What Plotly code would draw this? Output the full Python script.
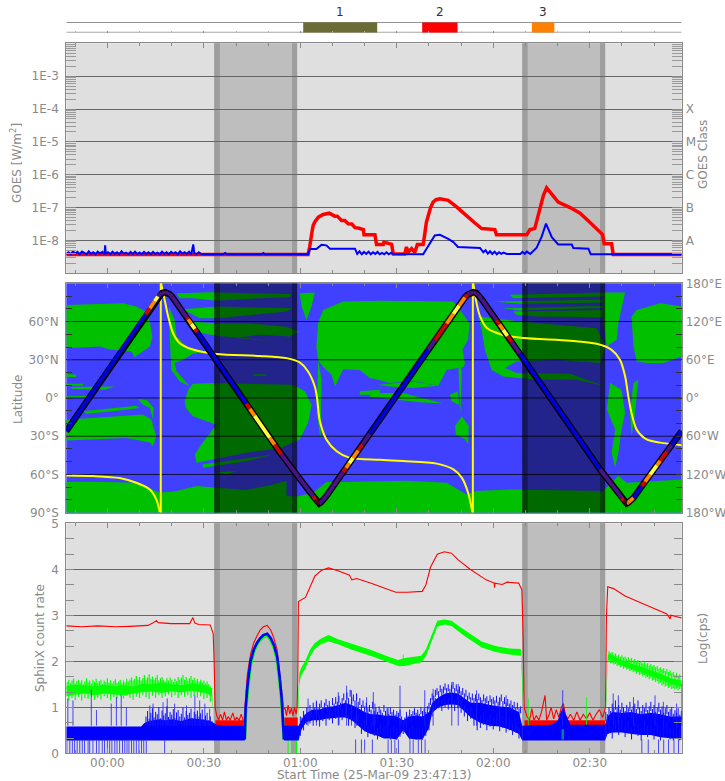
import plotly.graph_objects as go

W, H = 725, 781
GRAY = "#8a8a8a"
FONT = "DejaVu Sans"
X_RANGE = [-12.78, 178.6]

# ---- time axis
TICK_MIN = [0, 30, 60, 90, 120, 150]
TICK_TXT = ["00:00", "00:30", "01:00", "01:30", "02:00", "02:30"]
MINOR_MIN = [-10, 10, 20, 40, 50, 70, 80, 100, 110, 130, 140, 160, 170]

# ---- eclipse bands (minutes)
NIGHT_IN_A = [33.2, 129.0]
NIGHT_IN_B = [35.0, 130.7]
NIGHT_OUT_A = [57.4, 153.2]
NIGHT_OUT_B = [59.0, 154.8]

# ---- flare strip
FLARE_LABEL = ["1", "2", "3"]
FLARE_START = [60.9, 97.9, 132.0]
FLARE_END = [83.9, 108.9, 139.0]
FLARE_COLOR = ["#6b6b35", "#ff0000", "#ff8000"]

# ---- GOES (minute, log10 W/m2)
GOES_LONG = [(-12.8, -8.43), (62.4, -8.43), (62.9, -8.2), (63.2, -7.95), (63.6, -7.75), (64, -7.54), (64.6, -7.42), (65.6, -7.29),
             (67.1, -7.21), (69, -7.17), (70.7, -7.26), (71.5, -7.26), (72.8, -7.39), (73.8, -7.39), (74.9, -7.49), (76, -7.5),
             (77, -7.61), (78, -7.62), (79.6, -7.67), (79.8, -7.83), (83.2, -7.83), (83.7, -8.12), (85.8, -8.12), (86, -8.05),
             (88.4, -8.12), (88.9, -8.41), (92.5, -8.41), (93, -8.2), (93.5, -8.36), (94.6, -8.25), (95.6, -8.36), (96.4, -8.12),
             (98.2, -8.12), (98.7, -7.8), (99.2, -7.45), (99.8, -7.24), (100.5, -7.0), (101.3, -6.83), (102.2, -6.76),
             (103.4, -6.73), (106, -6.78), (108.6, -6.98), (110.5, -7.13), (112.2, -7.29), (114.3, -7.47), (116.4, -7.64),
             (120.5, -7.67), (121, -7.83), (130.4, -7.83), (131.4, -7.67), (132.9, -7.64), (133.7, -7.35), (134.5, -7.09),
             (135.6, -6.63), (136.6, -6.4), (138.2, -6.58), (140.2, -6.83), (143.9, -7.0), (147, -7.17), (149.6, -7.41),
             (152.2, -7.66), (154, -7.82), (154.5, -8.1), (156.8, -8.1), (157.3, -8.43), (178.6, -8.43)]
GOES_SHORT = [(-12.8, -8.42), (-12.1, -8.36), (-11.4, -8.42), (-10.7, -8.33), (-10, -8.4), (-9.3, -8.35), (-8.6, -8.42),
              (-7.9, -8.34), (-7.2, -8.38), (-6.5, -8.42), (-5.8, -8.33), (-5.1, -8.41), (-4.4, -8.36), (-3.7, -8.42),
              (-3, -8.34), (-2.3, -8.4), (-1.6, -8.35), (-0.9, -8.42), (-0.7, -8.15), (-0.5, -8.4), (0.2, -8.36), (0.9, -8.42),
              (1.6, -8.34), (2.3, -8.41), (3, -8.36), (3.7, -8.42), (4.4, -8.33), (5.1, -8.4), (5.8, -8.37), (6.5, -8.42),
              (7.2, -8.35), (7.9, -8.41), (8.6, -8.34), (9.3, -8.42), (10, -8.37), (10.7, -8.42), (11.4, -8.35), (12.1, -8.41),
              (12.8, -8.36), (13.5, -8.42), (14.2, -8.35), (14.9, -8.41), (15.6, -8.37), (16.3, -8.42), (17, -8.34),
              (17.7, -8.41), (18.4, -8.36), (19.1, -8.42), (19.8, -8.35), (20.5, -8.4), (21.2, -8.36), (21.9, -8.42),
              (22.6, -8.33), (23.3, -8.4), (24, -8.36), (24.7, -8.41), (25.4, -8.34), (26.1, -8.42), (26.7, -8.12), (27, -8.38),
              (27.7, -8.42), (28.4, -8.36), (29.1, -8.41), (30, -8.42), (36, -8.42), (36.6, -8.38), (37.2, -8.42), (48, -8.42),
              (48.5, -8.38), (49, -8.42), (62.4, -8.42), (63, -8.26), (65, -8.26), (66.6, -8.13), (68.1, -8.15), (69.2, -8.25),
              (77, -8.25), (77.7, -8.41), (78.4, -8.33), (79.1, -8.42), (79.8, -8.35), (80.5, -8.41), (81.2, -8.34), (81.9, -8.42),
              (82.6, -8.36), (83.3, -8.41), (84, -8.35), (84.7, -8.42), (85.4, -8.38), (86.1, -8.42), (86.8, -8.36), (87.5, -8.42),
              (88.2, -8.38), (88.9, -8.41), (98.2, -8.42), (99.8, -8.15), (101.8, -7.85), (103.4, -7.83), (106, -7.95),
              (107.6, -8.05), (109, -8.2), (115.9, -8.23), (116.9, -8.36), (117.6, -8.3), (118.3, -8.4), (119, -8.33),
              (119.7, -8.41), (120.4, -8.34), (121.1, -8.42), (121.8, -8.36), (122.5, -8.41), (123.2, -8.37), (124.2, -8.41),
              (128.4, -8.41), (129.1, -8.35), (129.8, -8.41), (130.4, -8.34), (131.5, -8.41), (133.5, -8.22), (135, -7.9),
              (136.4, -7.49), (138.2, -7.9), (140.2, -8.12), (144.4, -8.12), (144.9, -8.23), (149.6, -8.25), (150.3, -8.42),
              (178.6, -8.42)]
GOES_MAJOR = [1e-8, 1e-7, 1e-6, 1e-5, 1e-4, 1e-3]
GOES_LEFT_TXT = ["1E-8", "1E-7", "1E-6", "1E-5", "1E-4", "1E-3"]
CLASS_VALS = [1e-8, 1e-7, 1e-6, 1e-5, 1e-4]
CLASS_TXT = ["A", "B", "C", "M", "X"]
GOES_EXP = [-9, -8, -7, -6, -5, -4, -3]
GOES_MANT = [2, 3, 4, 5, 6, 7, 8, 9]

# ---- ground map (minute, latitude)
LAND_A = [(-12.8, 73), (-4.5, 73.8), (4.9, 74.4), (9, 71.7), (11.9, 67.8), (13.3, 58.7), (14, 48.3), (13.2, 40.4), (8.5, 32),
          (7.5, 36.5), (0.7, 38), (-2.4, 40.4), (-12.8, 39)]
LAND_B1 = [(-12.8, 18.8), (-9.7, 18.3), (-9.7, 16.4), (-12.8, 16.4)]
LAND_B2 = [(-12.8, 11.2), (-7.6, 11.2), (-7.6, 9.7), (-12.8, 9.7)]
LAND_B3 = [(-11.7, 8.6), (2.3, 9), (-0.8, 6.5), (-10.7, 7)]
LAND_B4 = [(-12.8, 1.3), (-5.5, 1.8), (-5.5, 0), (-12.8, 0)]
LAND_B5 = [(-7.6, -10.4), (1.8, -7.8), (9, -6), (10, -7.8), (1.8, -10.4), (-6.5, -12.3)]
LAND_B6 = [(9.5, -0.8), (12.3, -1.8), (14.4, -7.8), (14.2, -17), (13.2, -7.8), (11.1, -5.2)]
LAND_C = [(-12.8, -17), (-5.5, -15.7), (2.8, -14.3), (11.1, -13), (13.7, -17), (15.2, -30), (14.2, -37.8), (13.2, -35),
          (5.9, -31.3), (-4.5, -32.6), (-12.8, -33.4)]
LAND_E1 = [(21.5, 82.2), (31.8, 83), (47.4, 82.2), (57.2, 81.7), (56.7, 79), (47.4, 78.3), (33.9, 76.4), (26.6, 78.3),
           (22.5, 78.3)]
LAND_E2 = [(23.5, 69.7), (33.9, 71.7), (57.8, 70.4), (55.7, 67.8), (33.9, 62.6), (28.7, 62.6)]
LAND_E3 = [(25.6, 60), (33.9, 58.7), (43.2, 58.7), (55.7, 56), (59.6, 52), (56.7, 48.3), (47.4, 49.6), (41.2, 47.7),
           (51.5, 44.4), (33.9, 48.8), (26.6, 52.2)]
LAND_E4 = [(19.2, 71.7), (20.9, 61.3), (21.5, 48.3), (25.1, 39), (30.8, 36.5), (26.6, 34.7), (23.5, 30), (20.9, 27.4),
           (21.5, 20.9), (25.6, 9), (22.5, 13), (19.9, 22), (19.4, 45.7)]
LAND_E5 = [(45.3, 18.8), (49.5, 18.4), (49.5, 17.2), (45.3, 17.4)]
LAND_F = [(24, -2.6), (25.1, 6.5), (26.6, 11.2), (33.9, 11.7), (57.8, 10.4), (61.4, 5.2), (63.5, -5.2), (62.4, -19.6),
          (59.8, -32.6), (54.1, -39), (43.2, -43), (27.7, -50.9), (27.2, -44.4), (29.2, -36.5), (33.9, -20.9), (26.6, -14.3),
          (24.4, -7.8)]
LAND_F2 = [(29.7, -52), (43.2, -47), (51.5, -44.4), (43.2, -49.6), (29.7, -54.8)]
LAND_F3 = [(33.9, -58), (40.1, -57.4), (37, -60)]
LAND_D = [(-12.8, -65.7), (-4.5, -65.7), (9, -66.5), (16.3, -74.4), (21.5, -73), (27.7, -69), (33.9, -70.4), (43.2, -72.2),
          (51.5, -67.8), (55.7, -65), (55.7, -77), (59.3, -77), (64, -74.4), (68.1, -66), (73.3, -66), (81.6, -65.5),
          (93, -65), (105.5, -66.5), (111.7, -75.7), (114.8, -73), (126.2, -71.7), (154.2, -73), (158.9, -61), (161.5, -66.5),
          (170.9, -65), (178.6, -64), (178.6, -90), (-12.8, -90)]
LAND_G = [(59.8, 82.2), (64.5, 82.7), (63.5, 71.7), (61.9, 61.3), (60.4, 71.7)]
LAND_H = [(67.1, 69), (73.3, 75.7), (84.7, 76.4), (107.6, 75.7), (109.7, 69), (112.6, 58.7), (112.2, 45.7), (110.4, 38),
          (111.2, 27.4), (110.7, 24.3), (105.5, 22), (102.9, 9.7), (95, 13.6), (87.8, 11.7), (84.2, 14.3), (81.6, 15.7),
          (78.5, 22), (73.3, 22.5), (70.8, 9), (69.7, 18.3), (67.1, 24.3), (65.5, 30), (65, 40), (65.5, 58.7)]
LAND_H2 = [(81.6, 4), (92, 4), (104.5, -4.4), (97, -3.4), (81.6, 1)]
LAND_H3 = [(84.2, 10.4), (95, 13), (102.9, 9.7), (95, 7.8), (87.8, 9)]
LAND_H4 = [(106.5, 2.6), (109, 5.2), (109.4, -5.2), (107, -2.6)]
LAND_H5 = [(110.2, -14.3), (112.4, -22), (112.2, -36.5), (111.2, -32.6), (108.4, -28.7), (108.1, -22)]
LAND_H6 = [(109.4, 40), (110.2, 20), (109.8, -12), (109.2, 20)]
LAND_H7 = [(84.7, 6.5), (78.5, 5.2), (78.5, 2.6), (84.7, 2.6)]
LAND_H8 = [(65.5, 30), (66.6, 14.3), (66.3, -32.6), (65.2, -11.7)]
LAND_J = [(115.3, 64), (128.3, 60), (139.7, 57.4), (152.2, 54.8), (154.8, 40.4), (153.4, 27.4), (139.7, 30), (127.3, 28.7),
          (123.6, 23.5), (127.3, 19.6), (143.9, 19), (154.2, 9.7), (146, 14.3), (133.5, 14.3), (123.1, 16.9), (119.5, 22),
          (117.4, 37.8), (116.4, 53.5)]
LAND_K1 = [(125.2, 81), (154.2, 82.7), (154.2, 79.6), (126.2, 78.3)]
LAND_K2 = [(120, 75.7), (154.2, 77), (154.2, 75), (128.3, 74)]
LAND_K3 = [(123.1, 70.4), (154.2, 72.3), (154.2, 70.7), (128.3, 68.6)]
LAND_K4 = [(126.2, 67.8), (154.2, 69), (154.2, 63.4), (133.5, 64), (127.3, 65.2)]
LAND_L = [(154.2, 82.7), (161, 82.7), (160.5, 77), (158.9, 58.7), (158.4, 45.7), (155.3, 40.4), (154.2, 61.3)]
LAND_M = [(164.6, 69), (171.9, 74.4), (178.6, 71.7), (178.6, 32.6), (172.9, 27.4), (167.7, 27.4), (164.6, 28.7), (163.6, 40.4),
          (163, 64)]
LAND_N = [(156.3, 11.7), (159.9, 6.5), (161, -11.7), (159.9, -24.8), (158.9, -43), (157.9, -54.8), (156.8, -43), (157.9, -24.8),
          (155.3, -9)]
LAND_O = [(163.6, 11.7), (165.1, 14.3), (164.1, -11.7), (163, -30), (162.5, -11.7)]
LAND = [LAND_A, LAND_B1, LAND_B2, LAND_B3, LAND_B4, LAND_B5, LAND_B6, LAND_C, LAND_E1, LAND_E2, LAND_E3, LAND_E4, LAND_E5,
        LAND_F, LAND_F2, LAND_F3, LAND_D, LAND_G, LAND_H, LAND_H2, LAND_H3, LAND_H4, LAND_H5, LAND_H6, LAND_H7, LAND_H8,
        LAND_J, LAND_K1, LAND_K2, LAND_K3, LAND_K4, LAND_L, LAND_M, LAND_N, LAND_O]

# ---- satellite longitude (yellow, right axis)
LON_T1 = [-12.8, -4.5, 3.8, 9, 13.2, 15.2, 16.3]
LON_V1 = [-121.6, -122.6, -125.7, -133, -143.5, -159, -179]
LON_T2 = [16.7, 17.8, 18.9, 20.4, 22.5, 26.6, 33.9, 47.4, 55.7, 59.8, 62.4, 64.5, 65.2, 66, 68.1, 71.3, 75.4, 84.7, 92,
          102.4, 107.6, 110.2, 112.2, 113.5]
LON_V2 = [180, 154, 128, 102, 86, 76, 69, 66, 62.6, 55.8, 41.7, 18, 0, -34, -65, -83.5, -94, -97, -99, -103, -112, -125,
          -149, -179]
LON_T3 = [113.8, 114.6, 115.9, 118, 123.1, 129.4, 143.9, 152.2, 156.8, 159.4, 161, 162, 163, 164.6, 167.7, 171.9, 178.6]
LON_V3 = [180, 154, 128, 110, 99, 94, 90, 85, 75.6, 60, 34, 2.6, -23.5, -49.6, -65, -70, -74]
LON_WRAP_T = [16.6, 113.65]

# ---- satellite latitude track: (minute, latitude, colour of the run to the next point)
TRACK = [(-12.8, -26, "b"), (11.9, 65.5, "r"), (13.2, 70.3, "o"), (14.7, 75.9, "y"), (15.7, 79.6, "p"), (16.4, 81.4, "p"),
         (17, 82.4, "p"), (17.9, 83, "p"), (18.8, 82.4, "p"), (19.4, 81.4, "p"), (20.1, 79.6, "p"), (24.6, 63.5, "r"),
         (25.1, 61.8, "o"), (26.1, 58.2, "y"), (27.2, 54.3, "r"), (27.9, 51.7, "b"), (43.2, -4.5, "r"), (44.3, -8.5, "o"),
         (45.8, -14, "y"), (50.5, -31.2, "o"), (52, -36.6, "r"), (53.1, -40.6, "r"), (54.1, -44.2, "p"), (59.5, -62.3, "p"),
         (64, -77, "r"), (64.7, -79.8, "d"), (65.3, -81.7, "d"), (65.9, -82.7, "p"), (66.5, -81.7, "p"), (67.1, -79.8, "p"),
         (68.1, -77, "p"), (73.3, -58.2, "r"), (74.2, -54.9, "o"), (75.2, -51.3, "y"), (76.4, -47, "o"), (78, -41.2, "r"),
         (79.3, -36.5, "p"), (81.6, -28.1, "b"), (99.8, 37.8, "p"), (101.9, 45.4, "r"), (105.5, 58.4, "o"), (107.6, 66, "y"),
         (109.4, 72.5, "o"), (111.2, 79, "r"), (112, 81, "p"), (112.9, 82.4, "p"), (113.8, 83, "p"), (114.7, 82.4, "p"),
         (115.4, 80.6, "p"), (116.4, 77.5, "p"), (121, 61, "r"), (121.9, 57.7, "o"), (123.1, 53.4, "y"), (124.4, 48.8, "r"),
         (125.7, 44.1, "p"), (128.3, 34.8, "b"), (153.2, -56, "p"), (158.9, -74.4, "p"), (159.9, -78.3, "r"), (160.5, -80.5, "d"),
         (161, -82, "d"), (161.5, -82.7, "o"), (162, -82, "o"), (162.6, -80.6, "o"), (163.6, -78.3, "b"), (166.2, -69.2, "r"),
         (167.2, -65.7, "o"), (168.8, -60.1, "y"), (170.9, -52.8, "o"), (171.9, -49.3, "r"), (174, -42, "p"), (175.5, -36.8, "b"),
         (178.6, -26, "b")]
TRACK_PALETTE = {"b": "#0000d8", "p": "#4a1488", "r": "#c80808", "o": "#ff8800", "y": "#ffff40", "d": "#500820"}
LAT_VALS = [-90, -60, -30, 0, 30, 60]
LAT_TXT = ["90°S", "60°S", "30°S", "0°", "30°N", "60°N"]
LAT_GRID = [-60, -30, 0, 30, 60]
LAT_MINOR = [-80, -70, -50, -40, -20, -10, 10, 20, 40, 50, 70, 80]
LON_VALS = [-180, -120, -60, 0, 60, 120, 180]
LON_TXT = ["180°W", "120°W", "60°W", "0°", "60°E", "120°E", "180°E"]

# ---- SphinX log count rate
RED_T = [-12.8, -8, -3, 2.5, 7, 12.6, 14.1, 15.2, 15.8, 19.8, 25.6, 26.6, 27.2, 28.4, 32, 32.9, 33.2, 33.5, 34, 34.6, 35.2, 35.8,
         36.4, 37, 37.6, 38.2, 39, 39.6, 40.2, 41, 41.6, 42.2, 42.5, 42.9, 43.5, 44.5, 45.5, 46.5, 47.5, 48.5, 49.7, 50.8, 51.8,
         52.8, 53.6, 54.3, 54.8, 55.2, 55.7, 56.2, 56.7, 57.2, 57.7, 58.2, 58.7, 59, 59.2, 59.4, 61.6, 63, 64.5, 66.6, 68.8,
         71.7, 75.3, 76, 77.5, 81.8, 86, 89.7, 93.3, 97.9, 99, 100.5, 102.6, 104.8, 107, 109.2, 112.8, 117.8, 120.3, 120.4,
         120.5, 122.8, 124.3, 127.9, 128.9, 129.3, 129.6, 130.5, 131.3, 132, 132.6, 133.4, 134.2, 135, 136.1, 136.6, 137.4,
         138, 138.8, 139.6, 140.4, 141.2, 141.8, 142.4, 143.2, 144, 145, 146, 147, 148, 149, 150, 151, 152, 153, 154, 154.5,
         154.9, 155.2, 155.6, 157.4, 161, 168.2, 174, 175, 175.2, 178.6]
RED_V = [2.77, 2.75, 2.77, 2.75, 2.76, 2.78, 2.83, 2.88, 2.84, 2.82, 2.82, 2.95, 2.83, 2.8, 2.79, 2.6, 2.0, 1.0, 0.82, 0.72, 0.85,
         0.72, 0.9, 0.72, 0.8, 0.72, 0.88, 0.72, 0.78, 0.72, 0.85, 0.72, 0.72, 1.1, 1.7, 2.15, 2.4, 2.55, 2.68, 2.75, 2.78, 2.68,
         2.5, 2.25, 1.8, 1.3, 0.95, 1.0, 0.82, 1.05, 0.85, 0.98, 0.82, 1.0, 0.85, 1.0, 1.6, 3.3, 3.39, 3.6, 3.85, 3.98, 4.03,
         3.97, 3.87, 3.77, 3.8, 3.7, 3.6, 3.5, 3.5, 3.52, 3.65, 4.05, 4.33, 4.38, 4.35, 4.2, 4.0, 3.77, 3.7, 3.6, 3.7, 3.67, 3.72,
         3.7, 3.55, 2.5, 1.0, 0.8, 0.72, 0.97, 0.72, 0.82, 0.72, 0.9, 1.26, 0.72, 0.85, 1.0, 0.75, 0.95, 0.78, 1.0, 1.08, 0.85,
         0.75, 0.85, 0.72, 0.9, 0.72, 0.85, 0.75, 0.88, 0.72, 0.85, 0.95, 0.78, 0.9, 1.0, 3.0, 3.62, 3.58, 3.42, 3.2, 3.03, 2.92,
         3.0, 2.94]
RED_FLOOR_STARTS = [33.6, 55.0, 129.7]
RED_FLOOR_ENDS = [42.7, 59.2, 154.8]
RED_FLOOR_TOPS = [0.72, 0.78, 0.72]
GREEN1_T = [-12.8, -10, -7, -4, -1, 2, 5, 8, 11, 14, 17, 20, 23, 26, 29, 31, 32.5, 33, 33.3]
GREEN1_HI = [1.46, 1.49, 1.48, 1.46, 1.49, 1.46, 1.48, 1.45, 1.52, 1.5, 1.54, 1.5, 1.48, 1.52, 1.5, 1.47, 1.4, 1.0, 0.6]
GREEN1_LO = [1.24, 1.28, 1.3, 1.26, 1.3, 1.28, 1.26, 1.3, 1.33, 1.34, 1.31, 1.35, 1.32, 1.36, 1.32, 1.3, 1.23, 0.8, 0.55]
GREEN1_TOP = [1.55, 1.6, 1.53, 1.58, 1.62, 1.52, 1.57, 1.6, 1.54, 1.59, 1.5, 1.56, 1.63, 1.54, 1.58, 1.52, 1.6, 1.55, 1.62, 1.53,
              1.57, 1.6, 1.51, 1.58, 1.55, 1.63, 1.54, 1.59, 1.52, 1.57, 1.61, 1.53, 1.56, 1.6, 1.52, 1.58, 1.54, 1.62, 1.56,
              1.6, 1.65, 1.58, 1.62, 1.68, 1.6, 1.66, 1.58, 1.63, 1.7, 1.6, 1.65, 1.72, 1.62, 1.67, 1.6, 1.64, 1.7, 1.58, 1.63,
              1.66, 1.6, 1.56, 1.63, 1.58, 1.65, 1.6, 1.55, 1.62, 1.57, 1.66, 1.6, 1.65, 1.7, 1.6, 1.66, 1.58, 1.63, 1.68, 1.6,
              1.64, 1.58, 1.62, 1.56, 1.6, 1.54, 1.58, 1.52, 1.56, 1.5, 1.46, 1.42]
GREEN1_LOW = [1.14, 1.2, 1.16, 1.22, 1.15, 1.2, 1.18, 1.23, 1.16, 1.21, 1.17, 1.24, 1.2, 1.15, 1.22, 1.18, 1.24, 1.19, 1.25, 1.2,
              1.16, 1.23, 1.2, 1.26, 1.22, 1.18, 1.25, 1.21, 1.27, 1.2, 1.24, 1.28, 1.22, 1.26, 1.2, 1.27, 1.23, 1.26, 1.2, 1.25,
              1.21, 1.24, 1.18, 1.2, 1.12]
GREEN2_T = [59.3, 59.7, 60.2, 61.6, 63, 64.5, 66.6, 68.8, 71.7, 76, 81.8, 87.5, 90.4, 92.5, 97.6, 99, 101.2, 102.6, 104.8, 107,
            110.6, 116.4, 120.7, 125, 128.6, 129, 129.6]
GREEN2_HI = [1.1, 1.75, 1.85, 2.02, 2.25, 2.4, 2.5, 2.57, 2.48, 2.38, 2.25, 2.1, 2.03, 2.07, 2.12, 2.25, 2.65, 2.88, 2.91, 2.88,
             2.7, 2.43, 2.33, 2.28, 2.27, 1.8, 0.8]
GREEN2_LO = [0.7, 1.5, 1.68, 1.85, 2.1, 2.27, 2.38, 2.43, 2.37, 2.25, 2.12, 1.98, 1.9, 1.9, 1.98, 2.1, 2.5, 2.75, 2.8, 2.77, 2.57,
             2.3, 2.2, 2.15, 2.12, 1.5, 0.5]
GREEN3_T = [155, 155.6, 156.7, 159.6, 165.3, 171, 175.5, 178.6]
GREEN3_HI = [1.1, 2.15, 2.15, 2.03, 1.9, 1.76, 1.63, 1.58]
GREEN3_LO = [0.8, 2.02, 2.05, 1.92, 1.78, 1.63, 1.5, 1.45]
GREEN3_TOP = [2.22, 2.18, 2.2, 2.14, 2.17, 2.12, 2.14, 2.1, 2.13, 2.08, 2.1, 2.06, 2.09, 2.04, 2.07, 2.02, 2.05, 2.0, 2.03, 1.98,
              2.0, 1.95, 1.98, 1.93, 1.96, 1.91, 1.94, 1.89, 1.92, 1.87, 1.9, 1.84, 1.87, 1.82, 1.85, 1.79, 1.83, 1.77, 1.8, 1.74,
              1.77, 1.71, 1.75, 1.69, 1.72]
GREEN3_LOW = [1.98, 1.96, 1.97, 1.93, 1.94, 1.9, 1.92, 1.87, 1.89, 1.84, 1.86, 1.82, 1.84, 1.79, 1.81, 1.76, 1.78, 1.73, 1.76, 1.7,
              1.72, 1.67, 1.7, 1.64, 1.66, 1.61, 1.64, 1.58, 1.6, 1.55, 1.57, 1.52, 1.54, 1.48, 1.5, 1.45, 1.47, 1.42, 1.45, 1.4,
              1.42, 1.38, 1.41, 1.37, 1.4]
GREEN_NOTE_T = [91, 92, 130.9, 149]
GREEN_NOTE_BASE = [2.0, 2.0, 0.5, 0.5]
GREEN_NOTE_V = [1.88, 2.15, 1.19, 1.22]
GREEN_DOWN_T = [56.2, 57.3, 58.8]
ARC_T = [42.7, 43, 43.6, 44.5, 45.5, 46.5, 47.5, 48.5, 49.7, 50.8, 51.8, 52.8, 53.5, 54.2, 54.9]
ARC_GREEN = [0.3, 0.85, 1.35, 1.9, 2.2, 2.36, 2.46, 2.53, 2.56, 2.46, 2.3, 2.02, 1.6, 1.1, 0.3]
ARC_BLUE = [0.3, 1.0, 1.5, 2.0, 2.25, 2.4, 2.5, 2.57, 2.6, 2.5, 2.35, 2.1, 1.7, 1.2, 0.3]
BLUE1_T = [-12.8, 10.5, 11.5, 13, 16, 18, 20, 23, 26, 29, 32, 34, 36, 40, 42.7]
BLUE1_HI = [0.58, 0.58, 0.66, 0.7, 0.74, 0.72, 0.74, 0.7, 0.76, 0.74, 0.7, 0.62, 0.6, 0.6, 0.6]
BLUE1_LO = [0.28, 0.28, 0.28, 0.28, 0.28, 0.28, 0.28, 0.28, 0.28, 0.28, 0.28, 0.28, 0.28, 0.28, 0.28]
BLUE2_T = [54.9, 59.5, 60, 61, 62, 64, 66, 68, 70, 72, 74, 76, 78, 80, 82, 84, 86, 88, 90, 92, 93.8, 96, 98, 100, 101, 103, 105, 107,
           109, 111, 113, 116, 119, 122, 125, 128, 129]
BLUE2_HI = [0.6, 0.6, 0.68, 0.8, 0.88, 0.95, 0.95, 1.0, 1.02, 1.05, 1.1, 1.05, 0.98, 0.9, 0.85, 0.85, 0.82, 0.82, 0.8, 0.72, 0.8,
            0.82, 0.8, 0.9, 1.1, 1.22, 1.3, 1.32, 1.3, 1.2, 1.1, 1.1, 1.05, 1.02, 1.0, 0.9, 0.6]
BLUE2_LO = [0.28, 0.28, 0.45, 0.6, 0.68, 0.72, 0.72, 0.75, 0.76, 0.78, 0.78, 0.72, 0.6, 0.48, 0.42, 0.38, 0.32, 0.32, 0.3, 0.5, 0.32,
            0.3, 0.3, 0.55, 0.88, 1.0, 1.05, 1.06, 1.05, 0.92, 0.78, 0.66, 0.6, 0.58, 0.52, 0.42, 0.28]
BLUE3_T = [129, 138, 140, 141, 141.8, 142.5, 144, 154.8]
BLUE3_HI = [0.6, 0.62, 0.7, 0.9, 1.0, 0.85, 0.62, 0.62]
BLUE3_LO = [0.28, 0.28, 0.28, 0.28, 0.28, 0.28, 0.28, 0.28]
BLUE4_T = [154.8, 155.5, 157, 160, 163, 166, 169, 172, 175, 178.6]
BLUE4_HI = [0.62, 0.8, 0.9, 0.88, 0.9, 0.85, 0.88, 0.85, 0.8, 0.8]
BLUE4_LO = [0.28, 0.42, 0.45, 0.45, 0.42, 0.4, 0.4, 0.35, 0.32, 0.3]
BLUE_DOWN_T = [-12.6, -11.7, -10.9, -10.2, -9.4, -8.6, -7.8, -7.1, -6, -5.5, -4.5, -3.4, -2.6, -1.6, -0.9, 0, 0.7, 1.4, 2.3, 3, 3.8,
               4.7, 5.4, 6.1, 6.7, 7.5, 8.2, 9, 9.8, 10.6, 11.3, 12.1, 17.8, 77.2, 79, 80, 82.4, 87.3, 88.3, 89.4, 90.5, 94.1, 95.1,
               96.7, 97.7, 98.8, 166.2, 168.2, 171.4, 173, 174.5, 176.2, 177.6]
BLUE_UP_T = [-12.3, -10.7, -5, -3.4, 1.2, 2.8, 4.3, 5.9, 13.2, 14.2, 17.3, 18.6, 20.9, 24.6, 27.2, 28.7, 30.3, 31.8, 62.4, 65, 71.8,
             74.4, 75.9, 77.5, 80.6, 82.7, 83.2, 87.3, 91, 98.7, 101.3, 107.1, 109.1, 114.8, 122, 124, 141.6, 157.3, 158.9, 163.6,
             170.3, 172.9, 177, 178.6]
BLUE_UP_V = [1.19, 1.15, 1.38, 0.94, 1.08, 1.22, 1.26, 1.0, 1.04, 1.08, 1.11, 1.19, 1.08, 1.04, 1.26, 1.15, 1.08, 0.97, 1.19, 1.15, 1.33,
             1.47, 1.37, 1.3, 1.22, 1.33, 1.08, 1.0, 1.47, 1.37, 1.4, 1.55, 1.51, 1.37, 1.22, 1.26, 1.37, 1.3, 1.26, 1.22, 1.26, 1.12,
             1.08, 1.51]
# dense fuzz of the blue channel, minute grids with tops and bottoms read by eye
BLUE_FUZZ_A = [0.8, 0.92, 0.75, 0.88, 0.98, 0.78, 0.9, 0.85, 1.0, 0.76, 0.93, 0.82, 0.87, 1.02, 0.79, 0.9, 0.84, 0.96, 0.77, 0.89, 0.94,
               0.8, 0.86, 1.0, 0.78, 0.92, 0.83, 0.88, 0.97, 0.76, 0.9, 0.85, 0.93, 0.8, 0.87, 0.95, 0.74, 0.82, 0.88, 0.72, 0.8, 0.7]
BLUE_FUZZ_B = [0.8, 0.78, 0.92, 0.85, 1.0, 0.9, 1.05, 0.95, 1.1, 1.0, 1.12, 0.98, 1.08, 1.15, 1.0, 1.1, 1.18, 1.05, 1.14, 1.02, 1.2,
               1.08, 1.22, 1.12, 1.25, 1.1, 1.2, 1.3, 1.15, 1.32, 1.2, 1.38, 1.22, 1.28, 1.15, 1.3, 1.12, 1.2, 1.05, 1.15, 1.02,
               1.1, 0.98, 1.05, 0.95, 1.12, 0.92, 1.0, 0.9, 1.02, 0.95, 0.88, 1.05, 0.92, 0.98, 0.86, 1.0, 0.9, 0.95, 0.84, 0.92,
               0.88, 0.95, 0.8, 0.72, 0.78, 0.9, 0.82, 0.95, 0.85, 0.92, 0.98, 0.88, 0.95, 0.86, 1.0, 0.92, 0.98, 0.9, 1.02, 1.1,
               1.2, 1.3, 1.25, 1.38, 1.42, 1.35, 1.48, 1.4, 1.45, 1.52, 1.42, 1.5, 1.4, 1.48, 1.55, 1.42, 1.5, 1.38, 1.45, 1.35,
               1.42, 1.3, 1.38, 1.25, 1.32, 1.22, 1.3, 1.2, 1.28, 1.18, 1.3, 1.22, 1.16, 1.28, 1.2, 1.24, 1.14, 1.26, 1.18, 1.22,
               1.15, 1.25, 1.12, 1.2, 1.28, 1.14, 1.22, 1.1, 1.18, 1.08, 1.15, 1.05, 1.12, 1.0, 1.1, 0.98, 1.02]
BLUE_FUZZ_C = [0.9, 0.85, 1.0, 0.92, 1.08, 0.98, 1.15, 1.0, 1.05, 0.95, 1.1, 1.0, 0.92, 1.05, 0.98, 1.12, 0.95, 1.02, 1.08, 0.96, 1.15,
               1.0, 0.92, 1.05, 0.98, 1.1, 0.94, 1.02, 1.12, 0.96, 1.05, 0.9, 1.0, 1.1, 0.95, 1.02, 0.88, 0.98, 1.05, 0.9, 0.96, 1.0,
               0.86, 0.94, 0.88, 0.98, 0.84, 0.92]
BLUE_LOW_B = [0.38, 0.5, 0.62, 0.65, 0.6, 0.68, 0.58, 0.7, 0.6, 0.72, 0.65, 0.75, 0.62, 0.72, 0.78, 0.6, 0.7, 0.55, 0.6, 0.42, 0.48,
              0.35, 0.42, 0.38, 0.3, 0.4, 0.33, 0.38, 0.3, 0.34, 0.3, 0.36, 0.42, 0.55, 0.3, 0.35, 0.3, 0.33, 0.3, 0.38, 0.5, 0.8,
              0.95, 0.98, 0.92, 1.0, 0.95, 1.0, 0.92, 0.98, 0.88, 0.8, 0.7, 0.75, 0.6, 0.5, 0.55, 0.62, 0.5, 0.58, 0.52, 0.6, 0.48,
              0.55, 0.45, 0.5, 0.4, 0.45, 0.32]
BLUE_LOW_C = [0.38, 0.45, 0.32, 0.48, 0.4, 0.5, 0.35, 0.45, 0.3, 0.42, 0.38, 0.28, 0.45, 0.35, 0.4, 0.3, 0.42, 0.28, 0.35, 0.4, 0.3,
              0.28, 0.35, 0.28]
TEAL_T = [141.4, 141.6, 141.8]
SPHINX_VALS = [0, 1, 2, 3, 4, 5]
SPHINX_MINOR = [0.33, 0.67, 1.33, 1.67, 2.33, 2.67, 3.33, 3.67, 4.33, 4.67]


def fy(py):
    return 1 - py / H


fig = go.Figure()


def line(x, y, xa, ya, color, width, shape="linear", smoothing=1.0, **kw):
    fig.add_trace(go.Scatter(x=x, y=y, xaxis=xa, yaxis=ya, mode="lines", hoverinfo="skip", showlegend=False,
                             line=dict(color=color, width=width, shape=shape, smoothing=smoothing), **kw))


def area(x, y, xa, ya, color):
    fig.add_trace(go.Scatter(x=x, y=y, xaxis=xa, yaxis=ya, mode="lines", fill="toself", fillcolor=color, hoverinfo="skip",
                             showlegend=False, line=dict(width=0, color=color)))


def band(t, hi, lo, color):
    area(list(t) + list(t)[::-1], list(hi) + list(lo)[::-1], "x4", "y4", color)


def spikes(ts, base, tops, color, width):
    xs, ys = [], []
    for i, t in enumerate(ts):
        b = base[i] if isinstance(base, list) else base
        v = tops[i] if isinstance(tops, list) else tops
        xs += [t, t, None]
        ys += [b, v, None]
    line(xs, ys, "x4", "y4", color, width)


def grid(start, step, n):
    return [start + step * i for i in range(n)]


# flare strip
line(X_RANGE, [1, 1], "x", "y", "#707070", 1.2, cliponaxis=False)
line(X_RANGE, [0, 0], "x", "y", "#a8a8a8", 2, cliponaxis=False)
for s, e, c in zip(FLARE_START, FLARE_END, FLARE_COLOR):
    area([s, e, e, s, s], [0, 0, 1, 1, 0], "x", "y", c)

# panel backgrounds and eclipse bands below the traces
shapes = [dict(type="rect", xref="x2 domain", yref="y2 domain", x0=0, x1=1, y0=0, y1=1, fillcolor="#dfdfdf", line_width=0, layer="below"),
          dict(type="rect", xref="x3 domain", yref="y3 domain", x0=0, x1=1, y0=0, y1=1, fillcolor="#4040ff", line_width=0, layer="below"),
          dict(type="rect", xref="x4 domain", yref="y4 domain", x0=0, x1=1, y0=0, y1=1, fillcolor="#dfdfdf", line_width=0, layer="below")]
for (xr, yr) in (("x2", "y2 domain"), ("x4", "y4 domain")):
    for a, b, c, d in zip(NIGHT_IN_A, NIGHT_IN_B, NIGHT_OUT_A, NIGHT_OUT_B):
        shapes.append(dict(type="rect", xref=xr, yref=yr, x0=a, x1=d, y0=0, y1=1, fillcolor="#bebebe", line_width=0, layer="below"))
        for p, q in ((a, b), (c, d)):
            shapes.append(dict(type="rect", xref=xr, yref=yr, x0=p, x1=q, y0=0, y1=1, fillcolor="#9e9e9e", line_width=0, layer="below"))

# GOES
line([p[0] for p in GOES_LONG], [10 ** p[1] for p in GOES_LONG], "x2", "y2", "#ff0000", 3.5)
line([p[0] for p in GOES_SHORT], [10 ** p[1] for p in GOES_SHORT], "x2", "y2", "#0000ff", 2)
fig.add_trace(go.Scatter(x=[None], y=[None], xaxis="x2", yaxis="y5", showlegend=False, hoverinfo="skip"))

# map
for poly in LAND:
    xs = [p[0] for p in poly] + [poly[0][0]]
    ys = [p[1] for p in poly] + [poly[0][1]]
    area(xs, ys, "x3", "y3", "#00c000")
for a, b, c, d in zip(NIGHT_IN_A, NIGHT_IN_B, NIGHT_OUT_A, NIGHT_OUT_B):
    area([a, d, d, a, a], [-90, -90, 90, 90, -90], "x3", "y3", "rgba(0,0,0,0.45)")
    for p, q in ((a, b), (c, d)):
        area([p, q, q, p, p], [-90, -90, 90, 90, -90], "x3", "y3", "rgba(0,0,0,0.35)")
for lat in LAT_GRID:
    line(X_RANGE, [lat, lat], "x3", "y3", "rgba(0,0,0,0.75)", 1)

# yellow longitude on the right axis
for tt, vv in ((LON_T1, LON_V1), (LON_T2, LON_V2), (LON_T3, LON_V3)):
    line(tt, vv, "x3", "y6", "#ffff00", 2, shape="spline", smoothing=0.8)
for t in LON_WRAP_T:
    line([t, t], [-180, 180], "x3", "y6", "#ffff00", 2)

# track on its own overlay so that it sits above the yellow curve
line([p[0] for p in TRACK], [p[1] for p in TRACK], "x3", "y7", "#000000", 6.5)
for key, col in TRACK_PALETTE.items():
    xs, ys = [], []
    for i in range(len(TRACK) - 1):
        if TRACK[i][2] == key:
            xs += [TRACK[i][0], TRACK[i + 1][0], None]
            ys += [TRACK[i][1], TRACK[i + 1][1], None]
    line(xs, ys, "x3", "y7", col, 3.8)

# SphinX
for s, e, top in zip(RED_FLOOR_STARTS, RED_FLOOR_ENDS, RED_FLOOR_TOPS):
    area([s, e, e, s, s], [0.5, 0.5, top, top, 0.5], "x4", "y4", "#ff0000")
line(RED_T, RED_V, "x4", "y4", "#ff0000", 1.1)
band(GREEN1_T, GREEN1_HI, GREEN1_LO, "#00ff00")
band(GREEN2_T, GREEN2_HI, GREEN2_LO, "#00ff00")
band(GREEN3_T, GREEN3_HI, GREEN3_LO, "#00ff00")
spikes(grid(-12.5, 0.5, len(GREEN1_TOP)), 1.4, GREEN1_TOP, "#00ff00", 1.2)
spikes(grid(-12, 1, len(GREEN1_LOW)), 1.4, GREEN1_LOW, "#00ff00", 1.2)
spikes(grid(156, 0.5, len(GREEN3_TOP)), [v - 0.12 for v in GREEN3_TOP], GREEN3_TOP, "#00ff00", 1.2)
spikes(grid(156, 0.5, len(GREEN3_LOW)), [v + 0.12 for v in GREEN3_LOW], GREEN3_LOW, "#00ff00", 1.2)
spikes(GREEN_NOTE_T, GREEN_NOTE_BASE, GREEN_NOTE_V, "#00ff00", 0.8)
spikes(GREEN_DOWN_T, 0.3, 0, "#00ff00", 1)
line(ARC_T, ARC_GREEN, "x4", "y4", "#00ff00", 3)
line(ARC_T, ARC_BLUE, "x4", "y4", "#0000ff", 2.6)
band(BLUE1_T, BLUE1_HI, BLUE1_LO, "#0000ff")
band(BLUE2_T, BLUE2_HI, BLUE2_LO, "#0000ff")
band(BLUE3_T, BLUE3_HI, BLUE3_LO, "#0000ff")
band(BLUE4_T, BLUE4_HI, BLUE4_LO, "#0000ff")
spikes(BLUE_DOWN_T, 0.3, 0, "#2020ff", 0.8)
spikes(BLUE_UP_T, 0.6, BLUE_UP_V, "#2020ff", 0.8)
spikes(grid(12, 0.5, len(BLUE_FUZZ_A)), 0.6, BLUE_FUZZ_A, "#1010ff", 1)
spikes(grid(60, 0.5, len(BLUE_FUZZ_B)), [v - 0.15 for v in BLUE_FUZZ_B], BLUE_FUZZ_B, "#1010ff", 1)
spikes(grid(155, 0.5, len(BLUE_FUZZ_C)), [v - 0.2 for v in BLUE_FUZZ_C], BLUE_FUZZ_C, "#1010ff", 1)
spikes(grid(60, 1, len(BLUE_LOW_B)), [v + 0.25 for v in BLUE_LOW_B], BLUE_LOW_B, "#1010ff", 1)
spikes(grid(155, 1, len(BLUE_LOW_C)), [v + 0.25 for v in BLUE_LOW_C], BLUE_LOW_C, "#1010ff", 1)
spikes(TEAL_T, 0.3, 0.52, "#008f90", 1)

tf = dict(family=FONT, size=12, color=GRAY)
base_x = dict(range=X_RANGE, domain=[66.3 / W, 681.7 / W], tickmode="array", tickvals=TICK_MIN, ticktext=TICK_TXT,
              ticks="inside", ticklen=5, tickcolor=GRAY, tickwidth=1, showgrid=False, zeroline=False,
              showline=True, linecolor=GRAY, linewidth=1.2, mirror="ticks",
              minor=dict(ticks="inside", ticklen=3, tickcolor=GRAY, tickwidth=1, tickmode="array", tickvals=MINOR_MIN),
              tickfont=tf, showticklabels=False)
goes_minor = [m * 10.0 ** e for e in GOES_EXP for m in GOES_MANT]

layout = dict(
    width=W, height=H, margin=dict(l=0, r=0, t=0, b=0, autoexpand=False), paper_bgcolor="white", plot_bgcolor="rgba(0,0,0,0)",
    showlegend=False, shapes=shapes, font=tf,
    xaxis=dict(base_x, anchor="y", showline=False, mirror=False, ticklen=2,
               minor=dict(ticks="inside", ticklen=2, tickcolor="#b0b0b0", tickmode="array", tickvals=MINOR_MIN)),
    yaxis=dict(domain=[fy(32.7), fy(22.3)], range=[0, 1], showticklabels=False, ticks="", showgrid=False, zeroline=False, fixedrange=True),
    xaxis2=dict(base_x, anchor="y2"),
    yaxis2=dict(domain=[fy(273.3), fy(43.3)], type="log", range=[-9, -2], anchor="x2", tickmode="array", tickvals=GOES_MAJOR,
                ticktext=GOES_LEFT_TXT, ticks="inside", ticklen=10, tickcolor=GRAY, showgrid=True, gridcolor="#666666", gridwidth=1.2,
                zeroline=False, showline=True, linecolor=GRAY, linewidth=1.2, mirror="ticks", tickfont=tf, ticklabelstandoff=4,
                minor=dict(ticks="inside", ticklen=10, tickcolor="#9a9a9a", tickwidth=1, tickmode="array", tickvals=goes_minor)),
    yaxis5=dict(overlaying="y2", side="right", anchor="x2", type="log", range=[-9, -2], tickmode="array", tickvals=CLASS_VALS,
                ticktext=CLASS_TXT, ticks="", showgrid=False, zeroline=False, tickfont=tf, ticklabelstandoff=3),
    xaxis3=dict(base_x, anchor="y3"),
    yaxis3=dict(domain=[fy(512.7), fy(283.3)], range=[-90, 90], anchor="x3", tickmode="array", tickvals=LAT_VALS, ticktext=LAT_TXT,
                ticks="inside", ticklen=6, tickcolor="#333333", showgrid=False, zeroline=False, showline=True, linecolor=GRAY, linewidth=1.2,
                mirror="ticks", tickfont=tf, ticklabelstandoff=4,
                minor=dict(ticks="inside", ticklen=6, tickcolor="#333333", tickmode="array", tickvals=LAT_MINOR)),
    yaxis6=dict(overlaying="y3", side="right", anchor="x3", range=[-180, 180], tickmode="array", tickvals=LON_VALS, ticktext=LON_TXT,
                ticks="", showgrid=False, zeroline=False, tickfont=tf, ticklabelstandoff=3),
    yaxis7=dict(overlaying="y3", side="left", anchor="x3", range=[-90, 90], visible=False),
    xaxis4=dict(base_x, anchor="y4", showticklabels=True, ticklabelstandoff=-2),
    yaxis4=dict(domain=[fy(753.3), fy(523.3)], range=[0, 5], anchor="x4", tickmode="array", tickvals=SPHINX_VALS,
                ticks="inside", ticklen=8, tickcolor=GRAY, showgrid=True, gridcolor="#666666", gridwidth=1.2, zeroline=False,
                showline=True, linecolor=GRAY, linewidth=1.2, mirror="ticks", tickfont=tf, ticklabelstandoff=4,
                minor=dict(ticks="inside", ticklen=8, tickcolor=GRAY, tickmode="array", tickvals=SPHINX_MINOR)),
)


def note(text, px, py, angle=0, color=GRAY, size=12):
    return dict(text=text, xref="paper", yref="paper", x=px / W, y=fy(py), showarrow=False, textangle=angle,
                xanchor="center", yanchor="middle", font=dict(family=FONT, size=size, color=color))


anns = [note("GOES [W/m<sup>2</sup>]", 16, 163, -90), note("GOES Class", 703, 155, -90), note("Latitude", 18, 400, -90),
        note("SphinX count rate", 40, 638, -90), note("Log(cps)", 703, 639, -90),
        note("Start Time (25-Mar-09 23:47:13)", 374, 775)]
for lab, s, e in zip(FLARE_LABEL, FLARE_START, FLARE_END):
    anns.append(note(lab, 107.7 + (s + e) / 2 * 3.2133, 12, color="#333333", size=12))
layout["annotations"] = anns
fig.update_layout(**layout)
fig.write_html("out.html", config={"displayModeBar": False}, post_script="document.body.style.margin='0';")
